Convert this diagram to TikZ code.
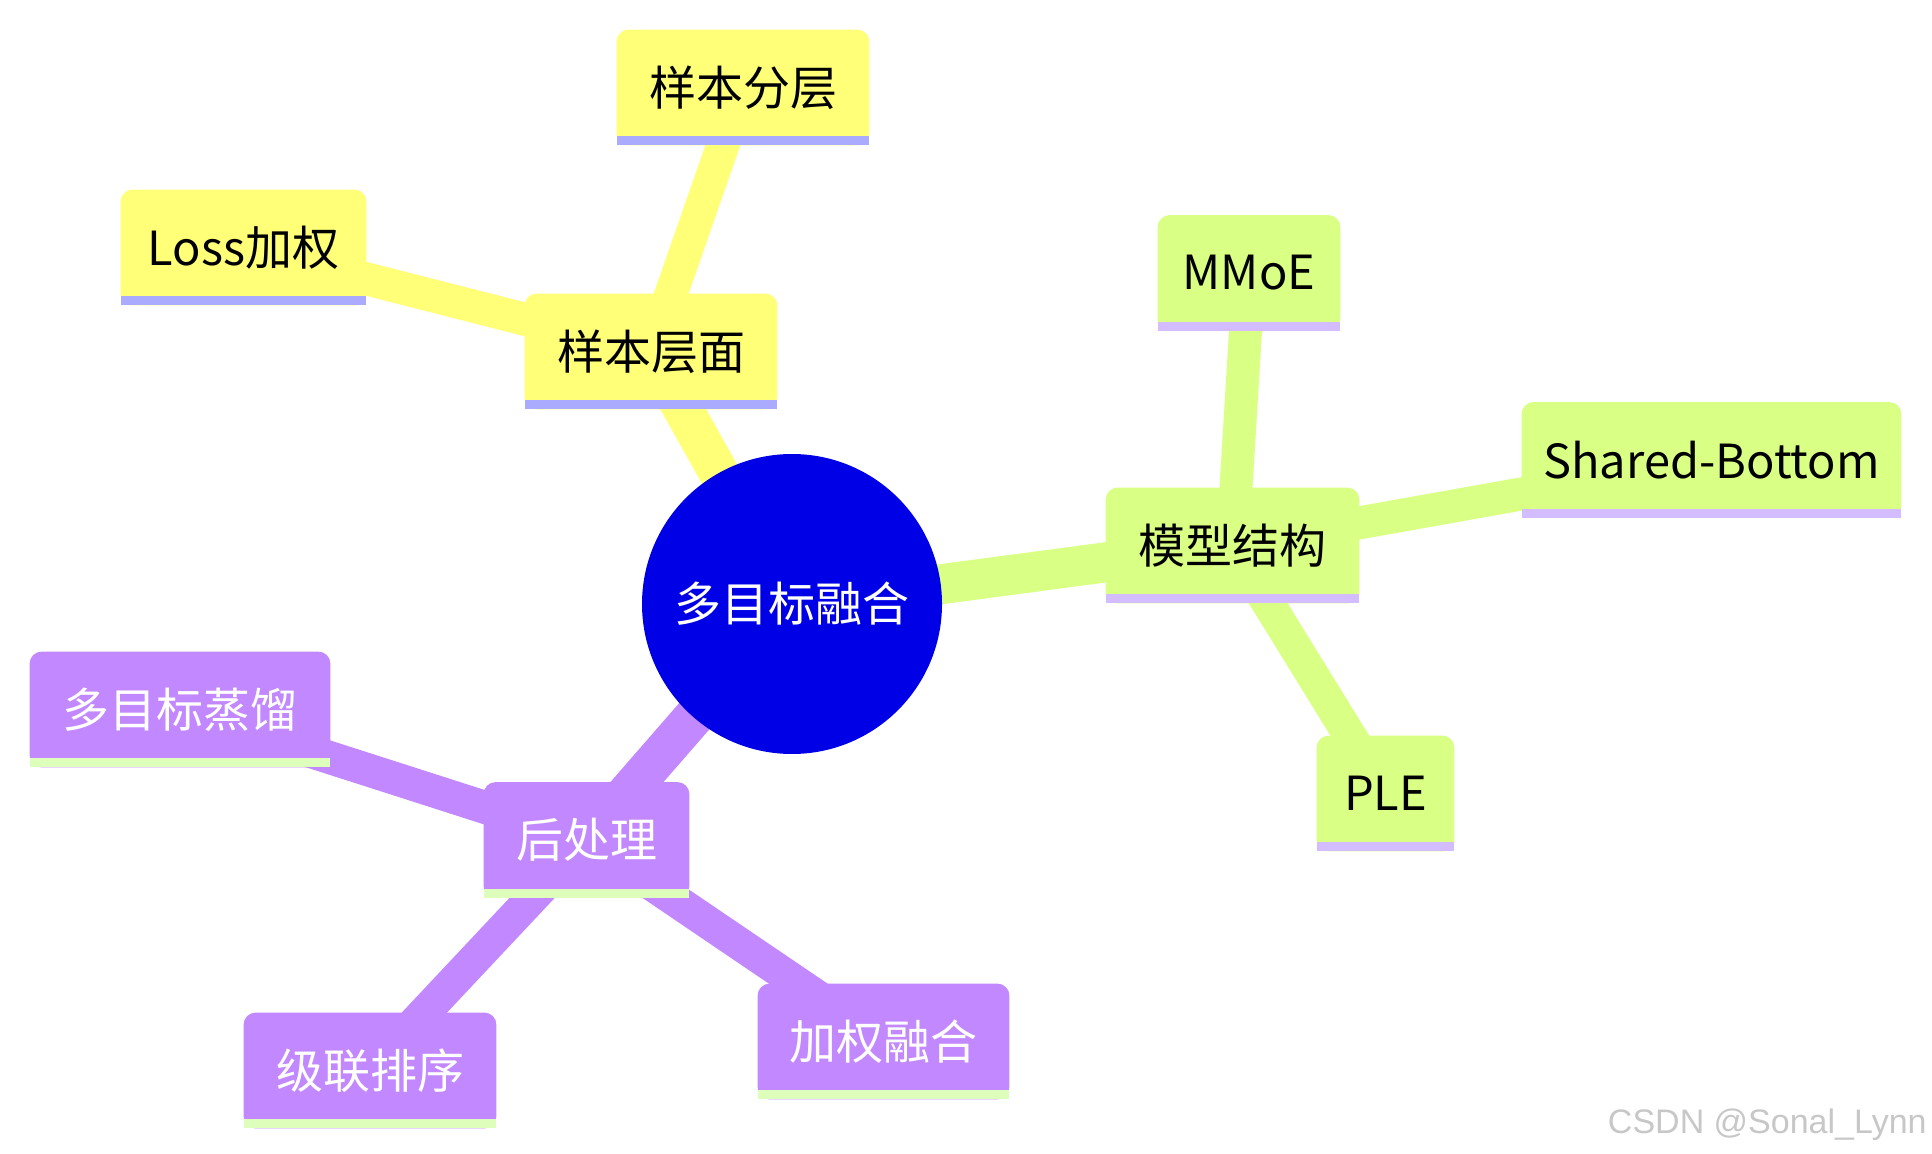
\documentclass[tikz,border=0pt]{standalone}
\usepackage{fontspec}
\setmainfont{Noto Sans CJK SC}
\newfontfamily\markfont{Liberation Sans}
\usetikzlibrary{shapes}

\definecolor{rootblue}{RGB}{0,0,230}
\definecolor{ylw}{RGB}{255,255,120}
\definecolor{ylwbar}{RGB}{170,170,255}
\definecolor{grn}{RGB}{217,255,133}
\definecolor{grnbar}{RGB}{211,188,255}
\definecolor{prp}{RGB}{194,136,255}
\definecolor{prpbar}{RGB}{221,255,187}

\pgfdeclarelayer{edges}
\pgfdeclarelayer{boxes}
\pgfsetlayers{edges,boxes,main}

\tikzstyle{topic} = [circle, fill=rootblue, text=white, minimum size=150pt, inner sep=0pt]
\tikzstyle{idea} = [rectangle, minimum height=57.5pt, inner sep=0pt, text centered]
\tikzstyle{trunk} = [line width=20pt]
\tikzstyle{twig} = [line width=16.5pt]

% filled box with round top corners and a bar at the bottom
\newcommand{\ideabox}[3]{%
  \fill[#2, rounded corners=6pt] (#1.south west) rectangle (#1.north east);
  \fill[#2] (#1.south west) rectangle (#1.east);
  \fill[#3] (#1.south west) rectangle ([yshift=4.5pt]#1.south east);
}

\begin{document}
\begin{tikzpicture}[x=0.5pt, y=-0.5pt, font=\fontsize{23.5pt}{28pt}\selectfont]
  \useasboundingbox (0,0) rectangle (1932,1154);

  \node[topic] (root) at (792,604) {多目标融合};

  \node[idea, minimum width=126pt]   (sample)  at (651,351.5)   {样本层面};
  \node[idea, minimum width=126pt]   (strat)   at (743,87.5)    {样本分层};
  \node[idea, minimum width=122.5pt] (lossw)   at (243.5,247.5) {Loss加权};

  \node[idea, minimum width=126.5pt] (model)   at (1232.5,545.5) {模型结构};
  \node[idea, minimum width=91pt]    (mmoe)    at (1249,273)     {MMoE};
  \node[idea, minimum width=189.5pt] (sharedb) at (1711.5,460)   {Shared-Bottom};
  \node[idea, minimum width=68.5pt]  (ple)     at (1385.5,793.5) {PLE};

  \node[idea, text=white, minimum width=102.5pt] (post)    at (586.5,840)    {后处理};
  \node[idea, text=white, minimum width=150pt]   (distill) at (180,709.5)    {多目标蒸馏};
  \node[idea, text=white, minimum width=126pt]   (cascade) at (370,1070.5)   {级联排序};
  \node[idea, text=white, minimum width=125.5pt] (fusion)  at (883.5,1041.5) {加权融合};

  \node[font=\markfont\fontsize{17pt}{20pt}\selectfont, text=black!22,
        anchor=base east, inner sep=0pt] (mark) at (1927,1133) {CSDN @Sonal\_Lynn};

  \begin{pgfonlayer}{boxes}
    \foreach \n in {sample,strat,lossw} {\ideabox{\n}{ylw}{ylwbar}}
    \foreach \n in {model,mmoe,sharedb,ple} {\ideabox{\n}{grn}{grnbar}}
    \foreach \n in {post,distill,cascade,fusion} {\ideabox{\n}{prp}{prpbar}}
  \end{pgfonlayer}

  \begin{pgfonlayer}{edges}
    \draw[trunk, ylw] (root.center) -- (sample.center);
    \draw[twig, ylw]  (sample.center) -- (strat.center);
    \draw[twig, ylw]  (sample.center) -- (lossw.center);

    \draw[trunk, grn] (root.center) -- (model.center);
    \draw[twig, grn]  (model.center) -- (mmoe.center);
    \draw[twig, grn]  (model.center) -- (sharedb.center);
    \draw[twig, grn]  (model.center) -- (ple.center);

    \draw[trunk, prp] (root.center) -- (post.center);
    \draw[twig, prp]  (post.center) -- (distill.center);
    \draw[twig, prp]  (post.center) -- (cascade.center);
    \draw[twig, prp]  (post.center) -- (fusion.center);
  \end{pgfonlayer}
\end{tikzpicture}
\end{document}
